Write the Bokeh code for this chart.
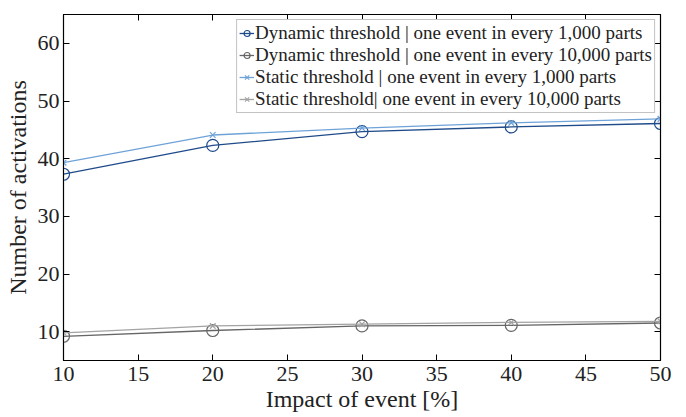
from bokeh.plotting import figure
from bokeh.models import LinearAxis, FixedTicker, Legend, LegendItem, Range1d, CustomJSTickFormatter
from bokeh.embed import file_html
from bokeh.resources import INLINE

impact = [10, 20, 30, 40, 50]
dyn_1000 = [37.3, 42.3, 44.7, 45.5, 46.1]
dyn_10000 = [9.2, 10.2, 11.0, 11.1, 11.5]
sta_1000 = [39.3, 44.1, 45.3, 46.2, 46.9]
sta_10000 = [9.8, 11.0, 11.3, 11.6, 11.8]
x_ticks = [10, 15, 20, 25, 30, 35, 40, 45, 50]
y_ticks = [10, 20, 30, 40, 50, 60]

labels = [
    "Dynamic threshold | one event in every 1,000 parts",
    "Dynamic threshold | one event in every 10,000 parts",
    "Static threshold | one event in every 1,000 parts",
    "Static threshold| one event in every 10,000 parts",
]

FONT = "Liberation Serif"

p = figure(width=672, height=415, output_backend="svg", toolbar_location=None,
           x_range=Range1d(10, 50), y_range=Range1d(5, 65),
           min_border_left=63, min_border_right=12, min_border_top=14, min_border_bottom=55)
p.grid.visible = False
p.outline_line_color = "black"
p.outline_line_width = 1.2
p.background_fill_color = "white"

for ax in (p.xaxis[0], p.yaxis[0]):
    ax.major_tick_in = 6
    ax.major_tick_out = 0
    ax.minor_tick_line_color = None
    ax.axis_line_color = "black"
    ax.major_label_text_font = FONT
    ax.major_label_text_font_size = "22px"
    ax.major_label_text_color = "#222222"
    ax.axis_label_text_font = FONT
    ax.axis_label_text_font_size = "24px"
    ax.axis_label_text_font_style = "normal"
    ax.axis_label_text_color = "#222222"

p.xaxis[0].ticker = FixedTicker(ticks=x_ticks)
p.yaxis[0].ticker = FixedTicker(ticks=y_ticks)
p.xaxis[0].axis_label = "Impact of event [%]"
p.yaxis[0].axis_label = "Number of activations"
p.xaxis[0].axis_label_standoff = 2
p.yaxis[0].axis_label_standoff = 4
p.xaxis[0].major_label_standoff = 6
p.yaxis[0].major_label_standoff = 4

# ticks on top and right (inward, no labels)
blank = CustomJSTickFormatter(code="return ''")
top = LinearAxis(ticker=FixedTicker(ticks=x_ticks), major_tick_in=6, major_tick_out=0,
                 minor_tick_line_color=None, formatter=blank, major_label_standoff=0)
right = LinearAxis(ticker=FixedTicker(ticks=y_ticks), major_tick_in=6, major_tick_out=0,
                   minor_tick_line_color=None, formatter=blank, major_label_standoff=0)
p.add_layout(top, "above")
p.add_layout(right, "right")

c_dyn1 = "#1f4b8a"
c_dyn2 = "#666666"
c_sta1 = "#6fa3d8"
c_sta2 = "#a3a3a3"

items = []
series = [
    (dyn_1000, c_dyn1, "circle"),
    (dyn_10000, c_dyn2, "circle"),
    (sta_1000, c_sta1, "x"),
    (sta_10000, c_sta2, "x"),
]
for (ys, col, mk), lab in zip(series, labels):
    r1 = p.line(impact, ys, line_color=col, line_width=1.3)
    if mk == "circle":
        r2 = p.scatter(impact, ys, marker="circle", size=12, fill_color=None,
                       line_color=col, line_width=1.2)
    else:
        r2 = p.scatter(impact, ys, marker="x", size=8, line_color=col, line_width=1.2)
    items.append(LegendItem(label=lab, renderers=[r1, r2]))

legend = Legend(items=items, location="top_right")
legend.label_text_font = FONT
legend.label_text_font_size = "19px"
legend.label_text_color = "#222222"
legend.label_height = 20
legend.label_standoff = 1
legend.glyph_width = 15
legend.glyph_height = 20
legend.spacing = 0
legend.padding = 2
legend.margin = 5
legend.border_line_color = "#888888"
legend.border_line_width = 1.5
legend.background_fill_alpha = 1.0
p.add_layout(legend, "center")

open("out.html", "w").write(file_html(p, INLINE))
